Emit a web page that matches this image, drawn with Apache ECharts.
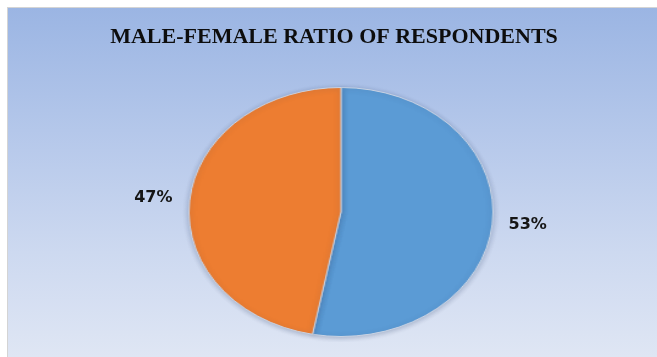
<!DOCTYPE html>
<html>
<head>
<meta charset="utf-8">
<script src="https://cdn.jsdelivr.net/npm/echarts@6/dist/echarts.min.js"></script>
<style>
  html, body { margin: 0; padding: 0; background: #ffffff; }
  #stage { position: relative; width: 657px; height: 357px; overflow: hidden; background: #ffffff; }
  #panel {
    position: absolute; left: 7px; top: 7px; width: 650px; height: 350px;
    box-sizing: border-box;
    border-left: 1px solid #d4d4d4; border-top: 1px solid #d4d4d4;
    background: linear-gradient(to bottom, #9bb5e3 0%, #b4c7ea 35%, #cdd9f0 70%, #dfe6f4 100%);
  }
  /* the pie is drawn round and then widened into the oval shape */
  #pie {
    position: absolute; left: 210.5px; top: 81.5px; width: 260px; height: 260px;
    transform: scaleX(1.221); transform-origin: 50% 50%;
  }
  #overlay { position: absolute; left: 0; top: 0; width: 657px; height: 357px; pointer-events: none; }
</style>
</head>
<body>
<div id="stage">
  <div id="panel"></div>
  <div id="pie"></div>
  <div id="overlay"></div>
</div>
<script>
// Respondents by gender (percent)
const categories = ['Male', 'Female'];
const shares = [53, 47];
const sliceColors = ['#5b9bd5', '#ed7d31'];
const chartTitle = 'MALE-FEMALE RATIO OF RESPONDENTS';

// pie geometry on the page
const cx = 340.5, cy = 211.5;
const radiusY = 124.5;
const labelRx = 188, labelRy = 143;

const pieChart = echarts.init(document.getElementById('pie'), null, { renderer: 'canvas' });
pieChart.setOption({
  animation: false,
  series: [{
    type: 'pie',
    center: ['50%', '50%'],
    radius: [0, radiusY],
    startAngle: 90,
    clockwise: true,
    label: { show: false },
    labelLine: { show: false },
    itemStyle: {
      borderColor: '#c9d3e3',
      borderWidth: 1,
      shadowBlur: 5,
      shadowOffsetY: 1,
      shadowColor: 'rgba(40, 60, 100, 0.3)'
    },
    data: categories.map((name, i) => ({
      name: name,
      value: shares[i],
      itemStyle: { color: sliceColors[i] }
    }))
  }]
});

// percentage labels placed at each slice's middle angle, outside the rim
const total = shares.reduce((a, b) => a + b, 0);
let cumulative = 0;
const labelGraphics = shares.map((v) => {
  const mid = (cumulative + v / 2) / total;
  cumulative += v;
  const ang = mid * 2 * Math.PI; // clockwise from 12 o'clock
  return {
    type: 'text',
    x: cx + labelRx * Math.sin(ang),
    y: cy - labelRy * Math.cos(ang),
    style: {
      text: Math.round(v / total * 100) + '%',
      font: 'bold 16px "DejaVu Sans", sans-serif',
      fill: '#151515',
      textAlign: 'center',
      textVerticalAlign: 'middle'
    }
  };
});

const overlay = echarts.init(document.getElementById('overlay'), null, { renderer: 'canvas' });
overlay.setOption({
  animation: false,
  graphic: [
    {
      type: 'text',
      x: 334,
      y: 37,
      style: {
        text: chartTitle,
        font: 'bold 22px "Liberation Serif", serif',
        fill: '#0d0d0d',
        textAlign: 'center',
        textVerticalAlign: 'middle'
      }
    }
  ].concat(labelGraphics)
});
</script>
</body>
</html>
